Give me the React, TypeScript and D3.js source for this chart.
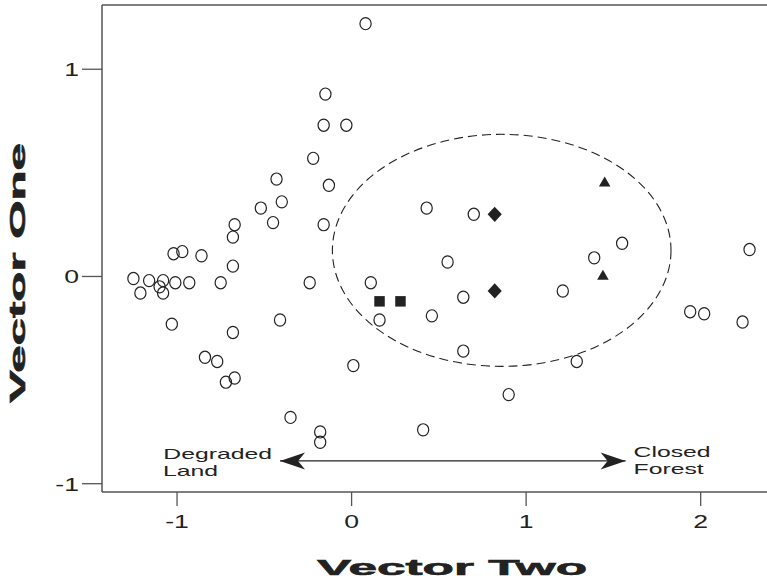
import React from "react";
import * as d3 from "d3";

// open circles: [vector two, vector one]
const circleX = [
  0.08, -0.15, -0.16, -0.03, -0.22, -0.43, -0.13, -0.52, -0.40, -0.45, -0.16, -0.67, -0.68,
  -1.02, -0.97, -0.86, -0.68, -1.25, -1.21, -1.16, -1.10, -1.08, -1.08, -1.01, -0.93, -0.75,
  -0.24, 0.11, -1.03, -0.68, -0.41, -0.84, -0.77, -0.72, -0.67, 0.01, -0.35, -0.18, -0.18,
  0.41, 0.90, 0.43, 0.70, 0.55, 0.16, 0.64, 0.46, 0.64, 1.21, 1.29, 1.55, 1.39, 2.28, 1.94,
  2.02, 2.24,
];
const circleY = [
  1.22, 0.88, 0.73, 0.73, 0.57, 0.47, 0.44, 0.33, 0.36, 0.26, 0.25, 0.25, 0.19,
  0.11, 0.12, 0.10, 0.05, -0.01, -0.08, -0.02, -0.05, -0.02, -0.08, -0.03, -0.03, -0.03,
  -0.03, -0.03, -0.23, -0.27, -0.21, -0.39, -0.41, -0.51, -0.49, -0.43, -0.68, -0.75, -0.80,
  -0.74, -0.57, 0.33, 0.30, 0.07, -0.21, -0.10, -0.19, -0.36, -0.07, -0.41, 0.16, 0.09, 0.13,
  -0.17, -0.18, -0.22,
];
const squareX = [0.16, 0.28];
const squareY = [-0.12, -0.12];
const diamondX = [0.82, 0.82];
const diamondY = [0.30, -0.07];
const triangleX = [1.45, 1.44];
const triangleY = [0.45, 0.0];

// dashed ellipse: centre and radii in data units
const ellipseCenter = [0.86, 0.126];
const ellipseRadius = [0.97, 0.56];

// double arrow Degraded Land <-> Closed Forest
const arrowX = [-0.41, 1.57];
const arrowY = -0.89;

const xTicks = [-1, 0, 1, 2];
const xTickLabels = ["-1", "0", "1", "2"];
const yTicks = [-1, 0, 1];
const yTickLabels = ["-1", "0", "1"];

const W = 767;
const H = 583;
const FONT = "'Liberation Sans', Arial, Helvetica, sans-serif";
const AXIS = "#555";
const INK = "#222";

const x = d3.scaleLinear().domain([-1.43, 2.38]).range([102, 767]);
const y = d3.scaleLinear().domain([-1.04, 1.31]).range([492, 5]);

const squarePath = d3.symbol(d3.symbolSquare, 110)() as string;
const diamondPath = d3.symbol(d3.symbolSquare, 100)() as string;
const trianglePath = d3.symbol(d3.symbolTriangle, 58)() as string;

// wide lettering: scale horizontally about the anchor
const Stretch = ({ x0, y0, sx, anchor, size, children }: any) => (
  <text
    transform={`translate(${x0},${y0}) scale(${sx},1)`}
    textAnchor={anchor}
    fontSize={size}
    fontFamily={FONT}
    fill={INK}
  >
    {children}
  </text>
);

export default function App() {
  const ax0 = x(arrowX[0]);
  const ax1 = x(arrowX[1]);
  const ay = y(arrowY);

  return (
    <svg
      width={W}
      height={H}
      style={{ position: "absolute", left: 0, top: 0, background: "#fff" }}
    >
      <defs>
        <marker
          id="head"
          viewBox="-27 -10 29 20"
          refX={0}
          refY={0}
          markerWidth={29}
          markerHeight={20}
          markerUnits="userSpaceOnUse"
          orient="auto-start-reverse"
        >
          <path d="M0,0 L-25,-8.5 L-18,0 L-25,8.5 Z" fill={INK} />
        </marker>
      </defs>

      {/* frame */}
      <line x1={x.range()[0]} x2={W} y1={y.range()[1]} y2={y.range()[1]} stroke={AXIS} strokeWidth={1.5} />
      <line x1={x.range()[0]} x2={x.range()[0]} y1={y.range()[1]} y2={y.range()[0]} stroke={AXIS} strokeWidth={1.5} />
      <line x1={x.range()[0]} x2={W} y1={y.range()[0]} y2={y.range()[0]} stroke={AXIS} strokeWidth={1.5} />

      {/* y ticks */}
      {yTicks.map((t, i) => (
        <g key={"yt" + i}>
          <line x1={x.range()[0] - 20} x2={x.range()[0]} y1={y(t)} y2={y(t)} stroke={AXIS} strokeWidth={1.3} />
          <Stretch x0={x.range()[0] - 23} y0={y(t) + 7} sx={1.4} anchor="end" size={19}>
            {yTickLabels[i]}
          </Stretch>
        </g>
      ))}

      {/* x ticks */}
      {xTicks.map((t, i) => (
        <g key={"xt" + i}>
          <line x1={x(t)} x2={x(t)} y1={y.range()[0]} y2={y.range()[0] + 14} stroke={AXIS} strokeWidth={1.3} />
          <Stretch x0={x(t)} y0={528} sx={1.4} anchor="middle" size={19}>
            {xTickLabels[i]}
          </Stretch>
        </g>
      ))}

      {/* axis titles */}
      <text
        transform="translate(25,273) rotate(-90)"
        textAnchor="middle"
        fontFamily={FONT}
        fontWeight={900}
        fontSize={22}
        fill={INK}
        stroke={INK}
        strokeWidth={0.6}
        textLength={260}
        lengthAdjust="spacingAndGlyphs"
      >
        Vector One
      </text>
      <text
        x={452}
        y={575}
        textAnchor="middle"
        fontFamily={FONT}
        fontWeight={900}
        fontSize={22}
        fill={INK}
        stroke={INK}
        strokeWidth={0.6}
        textLength={270}
        lengthAdjust="spacingAndGlyphs"
      >
        Vector Two
      </text>

      {/* dashed ellipse */}
      <ellipse
        cx={x(ellipseCenter[0])}
        cy={y(ellipseCenter[1])}
        rx={x(ellipseCenter[0] + ellipseRadius[0]) - x(ellipseCenter[0])}
        ry={y(ellipseCenter[1]) - y(ellipseCenter[1] + ellipseRadius[1])}
        fill="none"
        stroke={INK}
        strokeWidth={1.1}
        strokeDasharray="9 5"
      />

      {/* open circles */}
      {circleX.map((cx, i) => (
        <ellipse
          key={"c" + i}
          cx={x(cx)}
          cy={y(circleY[i])}
          rx={5.6}
          ry={6.1}
          fill="none"
          stroke={INK}
          strokeWidth={1.2}
        />
      ))}

      {squareX.map((sx, i) => (
        <path key={"s" + i} d={squarePath} transform={`translate(${x(sx)},${y(squareY[i])})`} fill={INK} />
      ))}
      {diamondX.map((dx, i) => (
        <path
          key={"d" + i}
          d={diamondPath}
          transform={`translate(${x(dx)},${y(diamondY[i])}) scale(1,1.08) rotate(45)`}
          fill={INK}
        />
      ))}
      {triangleX.map((tx, i) => (
        <path key={"t" + i} d={trianglePath} transform={`translate(${x(tx)},${y(triangleY[i])})`} fill={INK} />
      ))}

      {/* arrow and its labels */}
      <line
        x1={ax0}
        x2={ax1}
        y1={ay}
        y2={ay}
        stroke={INK}
        strokeWidth={1.3}
        markerStart="url(#head)"
        markerEnd="url(#head)"
      />
      <Stretch x0={ax0 - 8} y0={ay - 2} sx={1.65} anchor="end" size={15}>Degraded</Stretch>
      <Stretch x0={163} y0={ay + 15} sx={1.65} anchor="start" size={15}>Land</Stretch>
      <Stretch x0={ax1 + 8} y0={ay - 4} sx={1.65} anchor="start" size={15}>Closed</Stretch>
      <Stretch x0={ax1 + 8} y0={ay + 13} sx={1.65} anchor="start" size={15}>Forest</Stretch>
    </svg>
  );
}
